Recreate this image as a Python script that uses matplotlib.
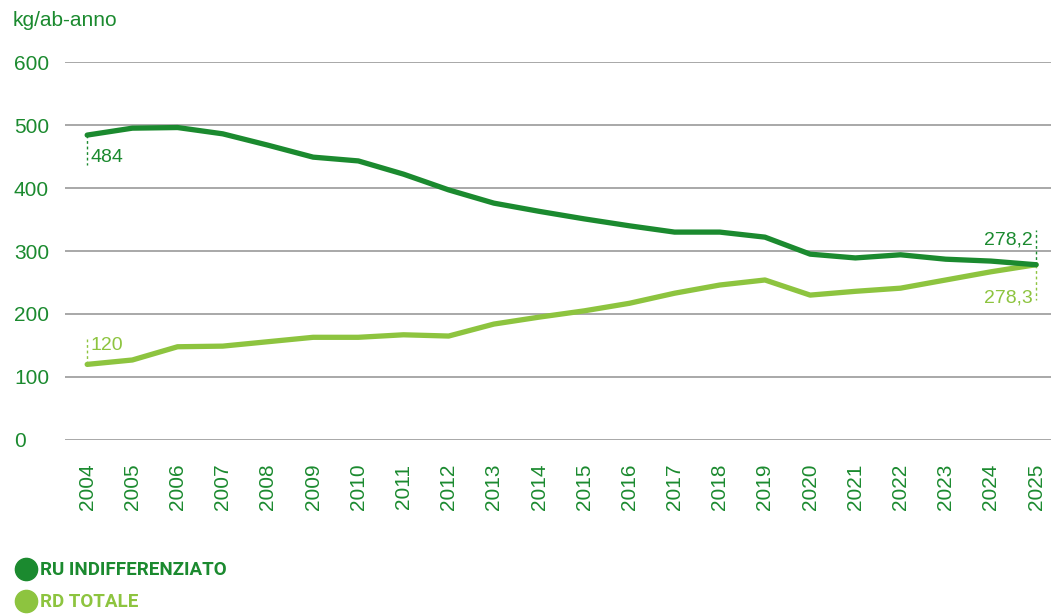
import matplotlib
matplotlib.use("Agg")
import matplotlib.pyplot as plt
from matplotlib.lines import Line2D

years = list(range(2004, 2026))
ru_indiff = [484, 495, 496, 486, 468, 449, 443, 422, 397, 376, 363, 351,
             340, 330, 330, 322, 295, 289, 294, 287, 284, 278.2]
rd_totale = [120, 127, 148, 149, 156, 163, 163, 167, 165, 184, 195, 205,
             217, 233, 246, 254, 230, 236, 241, 254, 267, 278.3]
y_ticks = [0, 100, 200, 300, 400, 500, 600]

DARK = "#1b8a2f"
LIGHT = "#8dc43f"
GRID = "#9a9a9a"

plt.rcParams["font.family"] = ["Liberation Sans", "DejaVu Sans"]

fig = plt.figure(figsize=(10.51, 6.14), dpi=100)
ax = fig.add_axes([0.062, 0.2834, 0.938, 0.6156])

for y in y_ticks:
    ax.axhline(y, color=GRID, lw=1.2, zorder=1)

ax.plot(years, ru_indiff, color=DARK, lw=3.8, solid_capstyle="round", zorder=3)
ax.plot(years, rd_totale, color=LIGHT, lw=3.8, solid_capstyle="round", zorder=2)

# dashed value markers
ax.plot([years[0], years[0]], [ru_indiff[0], 437], color=DARK, lw=1.0, ls=(0, (2, 2)))
ax.plot([years[0], years[0]], [rd_totale[0], 162], color=LIGHT, lw=1.0, ls=(0, (2, 2)))
ax.plot([years[-1], years[-1]], [ru_indiff[-1], 333], color=DARK, lw=1.0, ls=(0, (2, 2)))
ax.plot([years[-1], years[-1]], [rd_totale[-1], 222], color=LIGHT, lw=1.0, ls=(0, (2, 2)))

ax.text(years[0] + 0.07, 448, f"{ru_indiff[0]}", color=DARK, fontsize=14,
        va="center", ha="left")
ax.text(years[0] + 0.07, 150, f"{rd_totale[0]}", color=LIGHT, fontsize=14,
        va="center", ha="left")
ax.text(years[-1] - 0.07, 318, "278,2", color=DARK, fontsize=14,
        va="center", ha="right")
ax.text(years[-1] - 0.07, 226, "278,3", color=LIGHT, fontsize=14,
        va="center", ha="right")

ax.set_xlim(2003.513, 2025.33)
ax.set_ylim(0, 600)
ax.set_xticks(years)
ax.set_xticklabels([str(y) for y in years], rotation=90, color=DARK, fontsize=15)
ax.set_yticks(y_ticks)
ax.set_yticklabels([str(y) for y in y_ticks], color=DARK, fontsize=15)
ax.tick_params(axis="x", length=0, pad=17)
ax.tick_params(axis="y", length=0, pad=0)
for lbl in ax.get_yticklabels():
    lbl.set_horizontalalignment("left")
    lbl.set_x(-0.052)
for s in ax.spines.values():
    s.set_visible(False)

fig.text(0.012, 0.967, "kg/ab-anno", color=DARK, fontsize=15, va="center", ha="left")

# legend
handles = [
    Line2D([], [], marker="o", ls="", color=DARK, markersize=16),
    Line2D([], [], marker="o", ls="", color=LIGHT, markersize=16),
]
fig.legend(handles, ["RU INDIFFERENZIATO", "RD TOTALE"], loc="lower left",
           bbox_to_anchor=(0.0, -0.02), frameon=False, handletextpad=0.15,
           labelspacing=0.75, prop={"family": "Roboto", "weight": "bold", "size": 13.5},
           labelcolor=[DARK, LIGHT], handlelength=1.2, borderpad=0.3)

fig.savefig("out.png", dpi=100)
